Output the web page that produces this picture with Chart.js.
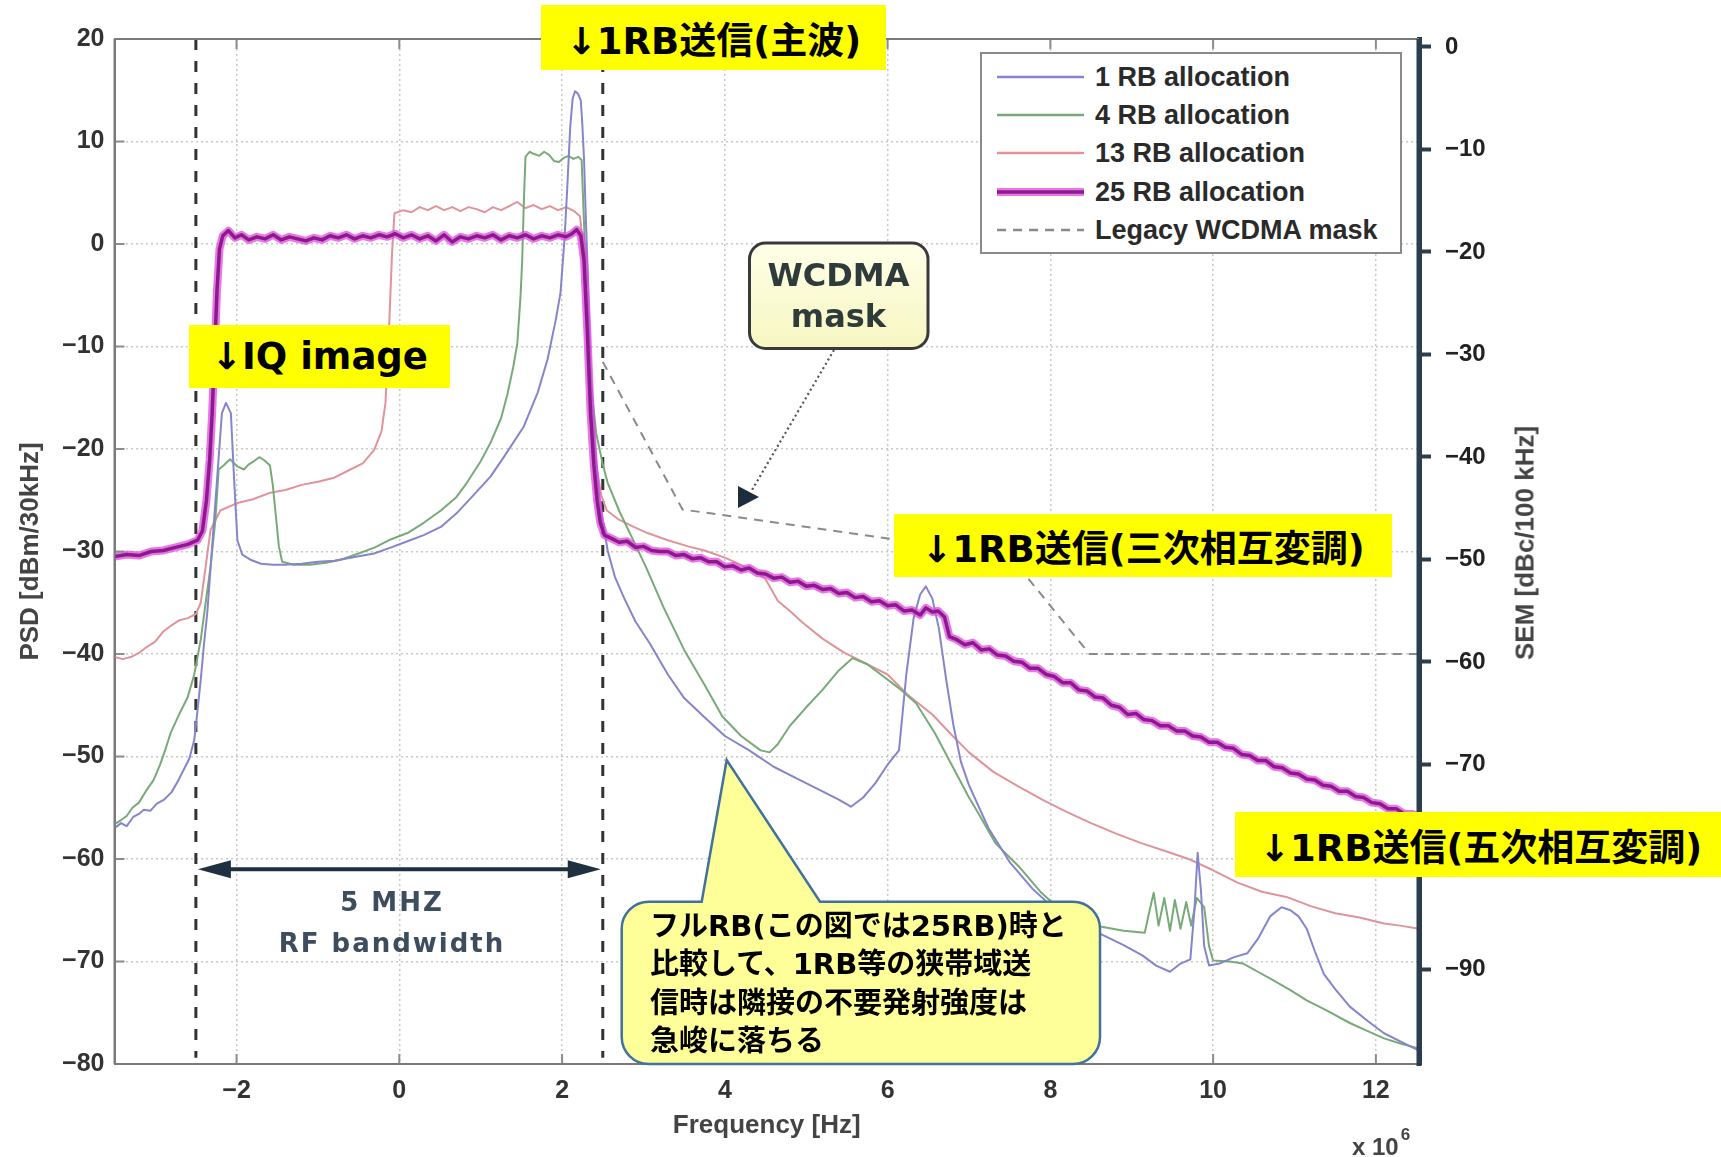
<!DOCTYPE html>
<html><head><meta charset="utf-8">
<script src="https://cdn.jsdelivr.net/npm/chart.js@4.4.1/dist/chart.umd.min.js"></script>
<style>
html,body{margin:0;padding:0;background:#fff;}
#wrap{position:relative;width:1721px;height:1157px;overflow:hidden;background:#fff;}
#wrap canvas{position:absolute;left:0;top:0;}
.ov{position:absolute;white-space:nowrap;z-index:5;}
.ybox{background:#ffff00;font-family:"DejaVu Sans","Noto Sans CJK JP";font-weight:700;color:#000;font-size:37px;display:flex;align-items:center;justify-content:center;}
#callText{left:650px;top:907px;font-family:"DejaVu Sans","Noto Sans CJK JP";font-weight:700;font-size:29px;line-height:38.3px;color:#000;}
#wcdma{left:749px;top:243px;width:179px;height:105px;display:flex;flex-direction:column;align-items:center;justify-content:center;font-family:"DejaVu Sans";font-weight:700;font-size:32px;line-height:41px;color:#2f3b3b;}
#bw{left:192px;top:882px;width:400px;text-align:center;font-family:"DejaVu Sans";font-weight:700;font-size:26px;line-height:41px;letter-spacing:2px;color:#3d4d5d;}
#legend{left:980px;top:52px;width:418px;height:198px;border:2px solid #8a8a8a;background:#fff;}
#legend .row{position:absolute;left:0;height:30px;width:418px;}
#legend .row svg{position:absolute;left:15px;top:0;}
#legend .row span{position:absolute;left:113px;top:0;line-height:30px;font-family:"Liberation Sans";font-weight:700;font-size:27px;color:#2a2a2a;}
#semTitle{left:1525px;top:543px;transform:translate(-50%,-50%) rotate(-90deg);font-family:"Liberation Sans";font-weight:700;font-size:26px;color:#444;}
#xexp{left:1352px;top:1131px;font-family:"Liberation Sans";font-weight:700;font-size:24px;color:#444;}
#xexp sup{font-size:17px;position:relative;top:-6px;margin-left:2px;}
</style></head><body>
<div id="wrap">
<canvas id="c"></canvas>
<div class="ov" id="legend"></div>
<div class="ov ybox" style="left:541px;top:5px;width:345px;height:65px;">↓1RB送信(主波)</div>
<div class="ov ybox" style="left:189px;top:325px;width:261px;height:63px;">↓IQ image</div>
<div class="ov ybox" style="left:894px;top:514px;width:498px;height:63px;">↓1RB送信(三次相互変調)</div>
<div class="ov ybox" style="left:1235px;top:812px;width:486px;height:65px;justify-content:flex-start;padding-left:24px;box-sizing:border-box;">↓1RB送信(五次相互変調)</div>
<div class="ov" id="wcdma"><div>WCDMA</div><div>mask</div></div>
<div class="ov" id="bw"><div>5 MHZ</div><div>RF bandwidth</div></div>
<div class="ov" id="callText">フルRB(この図では25RB)時と<br>比較して、1RB等の狭帯域送<br>信時は隣接の不要発射強度は<br>急峻に落ちる</div>
<div class="ov" id="semTitle">SEM [dBc/100 kHz]</div>
<div class="ov" id="xexp">x 10<sup>6</sup></div>
</div>
<script>
// ---- data (frequency in MHz, PSD in dBm/30kHz) ----
const seriesNames = ['1 RB allocation', '4 RB allocation', '13 RB allocation', '25 RB allocation', 'Legacy WCDMA mask'];
const xTicks = [-2, 0, 2, 4, 6, 8, 10, 12];
const psdTicks = [-80, -70, -60, -50, -40, -30, -20, -10, 0, 10, 20];
const semTicks = [-90, -80, -70, -60, -50, -40, -30, -20, -10, 0];
const bandEdgesMHz = [-2.5, 2.5];
const bandEdgeSpan = [20, -79.4];

const rb1Points = [
[-3.5,-57.0],[-3.42,-56.5],[-3.35,-56.8],[-3.27,-55.9],[-3.2,-55.6],[-3.14,-55.2],[-3.06,-55.3],[-2.98,-54.6],[-2.89,-54.2],[-2.8,-53.5],[-2.72,-52.4],[-2.65,-51.3],[-2.58,-50.2],[-2.52,-48.4],[-2.48,-45.5],[-2.44,-42.5],[-2.4,-39.0],[-2.36,-36.0],[-2.3,-29.5],[-2.24,-23.0],[-2.18,-16.5],[-2.13,-15.5],[-2.07,-16.5],[-2.03,-23.0],[-1.99,-28.9],[-1.93,-30.3],[-1.83,-30.8],[-1.7,-31.2],[-1.55,-31.3],[-1.42,-31.3],[-1.2,-31.2],[-1.0,-31.0],[-0.8,-30.9],[-0.6,-30.6],[-0.31,-30.2],[-0.1,-29.6],[0.1,-29.0],[0.3,-28.4],[0.51,-27.6],[0.7,-26.3],[0.9,-24.6],[1.12,-22.7],[1.3,-20.6],[1.53,-17.8],[1.7,-14.5],[1.82,-11.3],[1.92,-7.5],[1.98,-4.8],[2.03,0.5],[2.06,4.9],[2.1,11.4],[2.13,14.2],[2.16,14.9],[2.2,14.6],[2.23,14.0],[2.25,11.5],[2.27,8.2],[2.29,3.0],[2.31,-1.6],[2.35,-12.0],[2.4,-19.5],[2.46,-25.0],[2.56,-29.9],[2.65,-32.5],[2.76,-34.5],[2.9,-36.8],[3.08,-39.0],[3.3,-42.0],[3.5,-44.3],[3.74,-46.1],[4.0,-48.0],[4.3,-49.4],[4.6,-51.0],[4.9,-52.2],[5.2,-53.4],[5.4,-54.2],[5.55,-54.9],[5.7,-54.0],[5.85,-52.6],[6.0,-50.8],[6.14,-49.4],[6.23,-42.0],[6.32,-36.5],[6.4,-34.2],[6.47,-33.4],[6.55,-34.6],[6.63,-37.5],[6.72,-42.5],[6.81,-47.0],[6.9,-50.5],[7.0,-52.8],[7.24,-57.0],[7.5,-60.3],[7.78,-62.9],[8.0,-64.5],[8.3,-66.0],[8.59,-67.2],[8.9,-68.4],[9.13,-69.4],[9.3,-70.4],[9.47,-71.0],[9.6,-70.2],[9.72,-69.8],[9.77,-65.0],[9.81,-59.4],[9.85,-63.0],[9.89,-68.5],[9.95,-70.4],[10.08,-70.2],[10.25,-69.6],[10.42,-69.2],[10.55,-67.8],[10.7,-65.6],[10.84,-64.7],[10.95,-65.0],[11.05,-65.6],[11.15,-66.8],[11.25,-69.0],[11.36,-71.2],[11.5,-72.7],[11.68,-74.4],[11.9,-75.8],[12.1,-77.0],[12.3,-77.8],[12.53,-78.7]
];
const rb4Points = [
[-3.5,-56.6],[-3.42,-56.2],[-3.35,-55.8],[-3.28,-55.0],[-3.2,-54.5],[-3.1,-53.2],[-3.02,-52.3],[-2.94,-50.8],[-2.87,-49.2],[-2.81,-47.7],[-2.7,-45.8],[-2.6,-44.2],[-2.52,-42.0],[-2.44,-38.6],[-2.38,-35.0],[-2.32,-31.5],[-2.26,-26.9],[-2.22,-22.0],[-2.16,-21.6],[-2.08,-21.0],[-1.99,-21.7],[-1.91,-22.0],[-1.85,-21.5],[-1.79,-21.2],[-1.72,-20.8],[-1.66,-21.1],[-1.59,-21.6],[-1.555,-23.5],[-1.52,-26.3],[-1.48,-29.5],[-1.44,-31.0],[-1.3,-31.3],[-1.1,-31.3],[-0.9,-31.1],[-0.72,-30.8],[-0.5,-30.2],[-0.3,-29.6],[-0.1,-28.8],[0.1,-28.2],[0.3,-27.2],[0.51,-26.0],[0.7,-24.7],[0.83,-23.3],[1.0,-21.2],[1.12,-19.4],[1.25,-17.0],[1.33,-14.6],[1.4,-12.0],[1.45,-9.7],[1.49,-5.0],[1.51,-1.6],[1.53,4.0],[1.55,8.5],[1.6,9.0],[1.65,8.8],[1.72,8.6],[1.78,9.0],[1.84,8.7],[1.9,8.1],[1.96,8.0],[2.02,8.4],[2.08,8.6],[2.14,8.3],[2.2,8.5],[2.24,8.2],[2.27,2.0],[2.31,-8.0],[2.36,-14.0],[2.42,-18.5],[2.5,-21.5],[2.56,-23.3],[2.7,-26.0],[2.85,-28.5],[3.03,-31.5],[3.25,-35.5],[3.5,-39.6],[3.75,-43.0],[3.97,-46.1],[4.2,-48.0],[4.44,-49.4],[4.55,-49.6],[4.65,-48.8],[4.8,-47.0],[5.0,-45.2],[5.2,-43.5],[5.4,-41.6],[5.57,-40.4],[5.75,-41.0],[5.95,-42.2],[6.15,-43.4],[6.35,-44.8],[6.58,-47.7],[6.8,-51.0],[7.0,-54.0],[7.09,-55.2],[7.33,-58.5],[7.61,-60.7],[7.89,-63.3],[8.1,-64.8],[8.36,-66.0],[8.63,-66.6],[8.9,-67.0],[9.16,-67.2],[9.22,-65.0],[9.27,-63.3],[9.33,-66.5],[9.4,-63.8],[9.47,-67.0],[9.53,-64.0],[9.6,-66.8],[9.67,-64.2],[9.73,-66.5],[9.8,-63.8],[9.89,-64.7],[9.95,-68.5],[10.0,-69.9],[10.2,-70.0],[10.37,-70.2],[10.55,-71.0],[10.73,-71.8],[10.95,-72.8],[11.15,-73.8],[11.4,-74.8],[11.68,-76.0],[11.9,-76.8],[12.1,-77.5],[12.3,-78.0],[12.53,-78.5]
];
const rb13Points = [
[-3.5,-40.3],[-3.4,-40.5],[-3.3,-40.3],[-3.2,-39.9],[-3.1,-39.3],[-3.0,-38.8],[-2.9,-37.8],[-2.8,-37.2],[-2.7,-36.7],[-2.6,-36.5],[-2.5,-36.1],[-2.44,-35.0],[-2.38,-31.5],[-2.32,-27.9],[-2.2,-26.0],[-2.0,-25.3],[-1.8,-24.9],[-1.6,-24.3],[-1.4,-24.0],[-1.2,-23.5],[-1.0,-23.2],[-0.8,-22.8],[-0.6,-22.0],[-0.45,-21.4],[-0.31,-20.1],[-0.22,-18.3],[-0.17,-15.5],[-0.13,-9.0],[-0.09,-1.0],[-0.06,3.0],[0.05,3.3],[0.15,3.1],[0.25,3.6],[0.35,3.3],[0.45,3.7],[0.55,3.3],[0.65,3.6],[0.75,3.2],[0.85,3.6],[0.95,3.4],[1.05,3.1],[1.15,3.6],[1.25,3.3],[1.35,3.7],[1.45,4.1],[1.55,3.5],[1.65,3.8],[1.75,3.4],[1.85,3.7],[1.95,3.3],[2.05,3.6],[2.15,3.2],[2.22,2.7],[2.27,-1.0],[2.31,-8.0],[2.36,-16.0],[2.42,-21.5],[2.48,-24.5],[2.55,-26.0],[2.7,-26.9],[2.88,-27.6],[3.05,-28.2],[3.3,-28.9],[3.55,-29.5],[3.75,-29.9],[4.0,-30.6],[4.2,-31.3],[4.4,-32.1],[4.5,-32.7],[4.58,-33.8],[4.65,-34.8],[4.8,-35.8],[4.95,-36.9],[5.2,-38.5],[5.45,-39.8],[5.7,-40.8],[6.0,-42.0],[6.25,-44.0],[6.55,-45.9],[6.8,-48.0],[7.0,-49.6],[7.3,-51.5],[7.6,-52.9],[7.9,-54.2],[8.2,-55.4],[8.5,-56.5],[8.8,-57.5],[9.1,-58.4],[9.4,-59.2],[9.7,-60.0],[10.0,-61.1],[10.3,-62.3],[10.6,-63.2],[10.9,-63.7],[11.2,-64.6],[11.5,-65.3],[11.8,-65.7],[12.1,-66.3],[12.3,-66.5],[12.53,-66.8]
];
const rb25Points = [
[-3.5,-30.5],[-3.35,-30.3],[-3.2,-30.4],[-3.05,-30.0],[-2.9,-29.9],[-2.75,-29.6],[-2.6,-29.3],[-2.48,-28.9],[-2.42,-28.0],[-2.37,-25.0],[-2.33,-21.0],[-2.30,-16.5],[-2.27,-10.5],[-2.24,-4.5],[-2.21,-0.5],[-2.17,0.8],[-2.1,1.3],[-2.02,0.6],[-1.94,0.9],[-1.85,0.4],[-1.75,0.7],[-1.65,0.5],[-1.55,0.9],[-1.45,0.4],[-1.35,0.7],[-1.25,0.5],[-1.15,0.3],[-1.05,0.6],[-0.95,0.4],[-0.85,0.8],[-0.75,0.6],[-0.65,0.9],[-0.55,0.5],[-0.45,0.8],[-0.35,0.6],[-0.25,0.9],[-0.15,0.7],[-0.05,1.0],[0.05,0.6],[0.15,0.9],[0.25,0.5],[0.35,0.8],[0.45,0.3],[0.55,0.9],[0.65,0.2],[0.75,0.7],[0.85,0.5],[0.95,0.8],[1.05,0.6],[1.15,0.9],[1.25,0.4],[1.35,0.8],[1.45,0.6],[1.55,0.9],[1.65,0.5],[1.75,0.8],[1.85,0.6],[1.95,0.9],[2.05,0.7],[2.12,1.0],[2.18,1.4],[2.23,0.8],[2.27,-1.6],[2.31,-8.5],[2.35,-16.5],[2.39,-21.5],[2.43,-25.0],[2.47,-27.2],[2.52,-28.4],[2.6,-28.7],[2.7,-29.1],[2.8,-29.0],[2.9,-29.6],[3.0,-29.5],[3.1,-29.9],[3.2,-30.0],[3.3,-30.0],[3.4,-30.4],[3.5,-30.3],[3.6,-30.7],[3.7,-30.6],[3.8,-31.0],[3.9,-31.0],[4.0,-31.5],[4.1,-31.4],[4.2,-31.8],[4.3,-31.6],[4.4,-32.1],[4.5,-32.2],[4.6,-32.6],[4.7,-32.5],[4.8,-33.0],[4.9,-32.9],[5.0,-33.4],[5.1,-33.3],[5.2,-33.7],[5.3,-33.6],[5.4,-34.1],[5.5,-34.0],[5.6,-34.5],[5.7,-34.4],[5.8,-34.9],[5.9,-34.8],[6.0,-35.3],[6.1,-35.2],[6.2,-35.8],[6.3,-35.7],[6.4,-36.2],[6.47,-35.5],[6.55,-35.9],[6.62,-35.8],[6.7,-36.4],[6.76,-38.3],[6.85,-38.6],[6.95,-39.1],[7.05,-38.9],[7.15,-39.6],[7.25,-39.5],[7.35,-40.1],[7.45,-40.2],[7.55,-40.7],[7.65,-40.8],[7.75,-41.4],[7.85,-41.4],[7.95,-42.0],[8.05,-42.2],[8.15,-42.8],[8.25,-42.8],[8.35,-43.5],[8.45,-43.6],[8.55,-44.2],[8.65,-44.3],[8.75,-45.0],[8.85,-45.2],[8.95,-45.9],[9.05,-45.8],[9.15,-46.4],[9.25,-46.5],[9.35,-47.0],[9.45,-47.0],[9.55,-47.5],[9.65,-47.5],[9.75,-48.0],[9.85,-48.1],[9.95,-48.6],[10.05,-48.6],[10.15,-49.1],[10.25,-49.2],[10.35,-49.8],[10.45,-49.9],[10.55,-50.4],[10.65,-50.4],[10.75,-51.0],[10.85,-51.1],[10.95,-51.6],[11.05,-51.7],[11.15,-52.2],[11.25,-52.3],[11.35,-52.8],[11.45,-52.9],[11.55,-53.4],[11.65,-53.4],[11.75,-53.9],[11.85,-54.0],[11.95,-54.5],[12.05,-54.6],[12.15,-55.1],[12.25,-55.1],[12.35,-55.6],[12.45,-55.6],[12.53,-55.9]
];
const maskPoints = [[2.5,-11.5],[3.48,-25.9],[7.5,-30.4],[8.48,-40.0],[12.53,-40.0]];

// ---- helpers ----
const pts = arr => arr.map(p => ({x: p[0], y: p[1]}));
const fmt = v => (v < 0 ? '\u2212' + Math.abs(v) : String(v));

const styles = {
  rb1: {color: '#8585cc', width: 2},
  rb4: {color: '#78aa78', width: 2},
  rb13: {color: '#e0949a', width: 2},
  rb25: {color: '#8b1a8b', width: 3.5, glow: 'rgba(226,72,226,0.75)', glowWidth: 8},
  mask: {color: '#8a8a8a', width: 2, dash: [9, 7]},
  edge: {color: '#333333', width: 3, dash: [11, 11]}
};

const datasets = [
  {label: seriesNames[3], data: pts(rb25Points), borderColor: styles.rb25.color, borderWidth: styles.rb25.width, order: 0},
  {label: seriesNames[3] + ' (glow)', data: pts(rb25Points), borderColor: styles.rb25.glow, borderWidth: styles.rb25.glowWidth, order: 1},
  {label: seriesNames[0], data: pts(rb1Points), borderColor: styles.rb1.color, borderWidth: styles.rb1.width, order: 2},
  {label: seriesNames[1], data: pts(rb4Points), borderColor: styles.rb4.color, borderWidth: styles.rb4.width, order: 3},
  {label: seriesNames[2], data: pts(rb13Points), borderColor: styles.rb13.color, borderWidth: styles.rb13.width, order: 4},
  {label: seriesNames[4], data: pts(maskPoints), borderColor: styles.mask.color, borderWidth: styles.mask.width, borderDash: styles.mask.dash, order: 5},
  {label: 'band edge L', data: bandEdgeSpan.map(y => ({x: bandEdgesMHz[0], y})), borderColor: styles.edge.color, borderWidth: styles.edge.width, borderDash: styles.edge.dash, order: 6},
  {label: 'band edge R', data: bandEdgeSpan.map(y => ({x: bandEdgesMHz[1], y})), borderColor: styles.edge.color, borderWidth: styles.edge.width, borderDash: styles.edge.dash, order: 6}
];

function seg(ctx, x1, y1, x2, y2) { ctx.beginPath(); ctx.moveTo(x1, y1); ctx.lineTo(x2, y2); ctx.stroke(); }

const marksPlugin = {
  id: 'marks',
  afterDatasetsDraw(chart) {
    const {ctx, chartArea: a, scales} = chart;
    const sx = scales.x, sy = scales.y;
    ctx.save();
    // inner tick marks
    ctx.strokeStyle = '#8c8c8c'; ctx.lineWidth = 2;
    xTicks.forEach(v => { const px = sx.getPixelForValue(v); seg(ctx, px, a.bottom, px, a.bottom - 10); seg(ctx, px, a.top, px, a.top + 10); });
    psdTicks.forEach(v => { const py = sy.getPixelForValue(v); seg(ctx, a.left, py, a.left + 10, py); });
    // frame
    ctx.strokeStyle = '#7a7a7a'; ctx.lineWidth = 2;
    seg(ctx, a.left, a.top, a.right, a.top);
    seg(ctx, a.left, a.top, a.left, a.bottom);
    seg(ctx, a.left, a.bottom, a.right, a.bottom);
    ctx.strokeStyle = '#2c3d4d'; ctx.lineWidth = 5;
    seg(ctx, a.right, a.top, a.right, a.bottom + 2);
    // 5 MHz double arrow between band edges
    const xl = sx.getPixelForValue(bandEdgesMHz[0]) + 2, xr = sx.getPixelForValue(bandEdgesMHz[1]) - 2;
    const ya = sy.getPixelForValue(-61);
    ctx.strokeStyle = '#1f3040'; ctx.fillStyle = '#1f3040'; ctx.lineWidth = 4;
    seg(ctx, xl + 20, ya, xr - 20, ya);
    ctx.beginPath(); ctx.moveTo(xl, ya); ctx.lineTo(xl + 33, ya - 9); ctx.lineTo(xl + 33, ya + 9); ctx.closePath(); ctx.fill();
    ctx.beginPath(); ctx.moveTo(xr, ya); ctx.lineTo(xr - 33, ya - 9); ctx.lineTo(xr - 33, ya + 9); ctx.closePath(); ctx.fill();
    ctx.restore();
  },
  afterDraw(chart) {
    const {ctx} = chart;
    ctx.save();
    // WCDMA mask callout box + dotted pointer
    ctx.strokeStyle = '#555'; ctx.lineWidth = 2.2; ctx.setLineDash([2, 3]);
    seg(ctx, 834, 350, 752, 490);
    ctx.setLineDash([]);
    ctx.fillStyle = '#1e2d3c';
    ctx.beginPath(); ctx.moveTo(738, 486); ctx.lineTo(738, 508); ctx.lineTo(759, 497); ctx.closePath(); ctx.fill();
    const g = ctx.createLinearGradient(0, 243, 0, 348);
    g.addColorStop(0, '#ffffe8'); g.addColorStop(1, '#f6f6c2');
    ctx.fillStyle = g; ctx.strokeStyle = '#3a3a3a'; ctx.lineWidth = 3;
    ctx.beginPath(); ctx.roundRect(749.5, 243, 178.5, 105.5, 16); ctx.fill(); ctx.stroke();
    // big speech bubble
    const L = 621.7, T = 901.7, R = 1100, B = 1064, r = 27;
    ctx.beginPath();
    ctx.moveTo(L + r, T);
    ctx.lineTo(701.7, T); ctx.lineTo(726.7, 760); ctx.lineTo(820, T);
    ctx.lineTo(R - r, T); ctx.arcTo(R, T, R, T + r, r);
    ctx.lineTo(R, B - r); ctx.arcTo(R, B, R - r, B, r);
    ctx.lineTo(L + r, B); ctx.arcTo(L, B, L, B - r, r);
    ctx.lineTo(L, T + r); ctx.arcTo(L, T, L + r, T, r);
    ctx.closePath();
    ctx.fillStyle = '#ffff99'; ctx.fill();
    ctx.strokeStyle = '#41719c'; ctx.lineWidth = 2.5; ctx.stroke();
    ctx.restore();
  }
};

Chart.defaults.font.family = 'Liberation Sans';

new Chart(document.getElementById('c'), {
  type: 'line',
  data: {datasets},
  options: {
    responsive: true, maintainAspectRatio: false, animation: false, events: [],
    devicePixelRatio: 1,
    layout: {padding: {top: 39, left: 0, right: 0, bottom: 0}},
    elements: {point: {radius: 0}, line: {tension: 0, fill: false, borderCapStyle: 'butt', borderJoinStyle: 'round'}},
    plugins: {legend: {display: false}, tooltip: {enabled: false}},
    scales: {
      x: {
        type: 'linear', position: 'bottom', min: -3.5, max: 12.53,
        afterBuildTicks: s => { s.ticks = xTicks.map(v => ({value: v})); },
        afterFit: s => { s.height = 93; },
        grid: {color: '#c9c9c9', lineWidth: 1.5, drawTicks: false},
        border: {display: true, color: '#7a7a7a', width: 2, dash: [2, 3]},
        ticks: {padding: 12, color: '#333', font: {size: 25, weight: 'bold'}, callback: fmt, maxRotation: 0, autoSkip: false},
        title: {display: true, text: 'Frequency [Hz]', color: '#444', font: {size: 26, weight: 'bold'}, padding: {top: 0, bottom: 16}}
      },
      y: {
        type: 'linear', position: 'left', min: -80, max: 20,
        afterBuildTicks: s => { s.ticks = psdTicks.map(v => ({value: v})); },
        afterFit: s => { s.width = 114.5; },
        grid: {color: '#c9c9c9', lineWidth: 1.5, drawTicks: false},
        border: {display: true, color: '#7a7a7a', width: 2, dash: [2, 3]},
        ticks: {padding: 10, color: '#333', font: {size: 25, weight: 'bold'}, callback: fmt},
        title: {display: true, text: 'PSD [dBm/30kHz]', color: '#444', font: {size: 26, weight: 'bold'}, padding: {top: 15, bottom: 0}}
      },
      y2: {
        type: 'linear', position: 'right', min: -99.22, max: 0.78,
        afterBuildTicks: s => { s.ticks = semTicks.map(v => ({value: v})); },
        afterFit: s => { s.width = 302; },
        grid: {drawOnChartArea: false, drawTicks: true, tickLength: 12, tickWidth: 4, tickColor: '#2c3d4d'},
        border: {display: true, color: '#2c3d4d', width: 5},
        ticks: {padding: 14, color: '#222', font: {size: 24, weight: 'bold'}, callback: fmt}
      }
    }
  },
  plugins: [marksPlugin]
});

// ---- legend built from the series styles ----
const legendEntries = [
  {name: seriesNames[0], s: styles.rb1},
  {name: seriesNames[1], s: styles.rb4},
  {name: seriesNames[2], s: styles.rb13},
  {name: seriesNames[3], s: styles.rb25},
  {name: seriesNames[4], s: styles.mask}
];
const rowCenters = [23.3, 61, 99.3, 137.7, 176];
const leg = document.getElementById('legend');
legendEntries.forEach((e, i) => {
  const row = document.createElement('div');
  row.className = 'row';
  row.style.top = (rowCenters[i] - 15) + 'px';
  let lines = '';
  if (e.s.glow) lines += `<line x1="0" y1="15" x2="87" y2="15" stroke="${e.s.glow}" stroke-width="${e.s.glowWidth}"/>`;
  lines += `<line x1="0" y1="15" x2="87" y2="15" stroke="${e.s.color}" stroke-width="${Math.max(e.s.width, 2.5)}" ${e.s.dash ? 'stroke-dasharray="' + e.s.dash.join(' ') + '"' : ''}/>`;
  row.innerHTML = `<svg width="87" height="30">${lines}</svg><span>${e.name}</span>`;
  leg.appendChild(row);
});
</script>
</body></html>
